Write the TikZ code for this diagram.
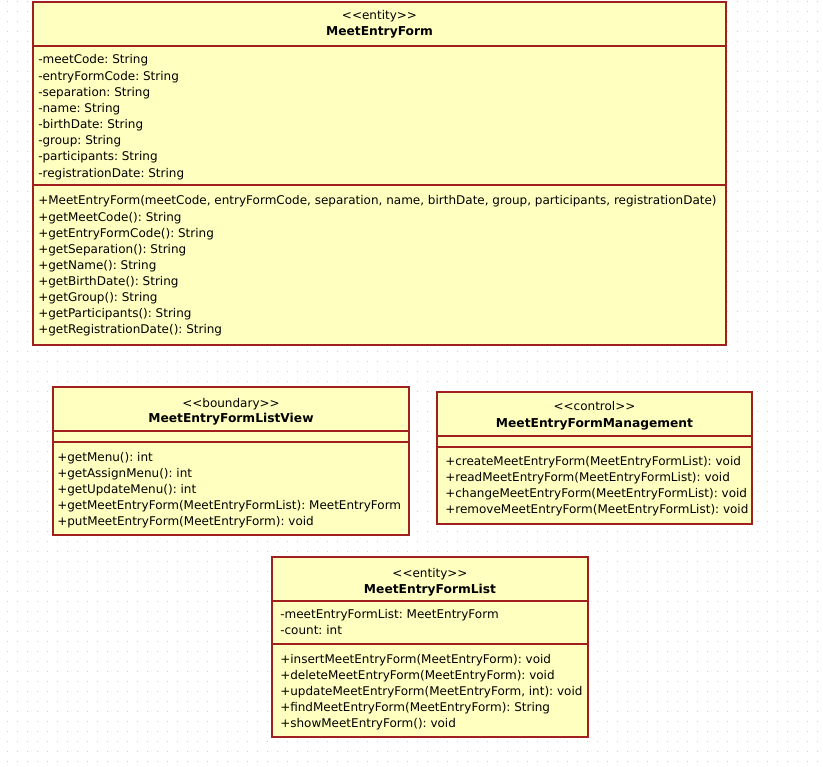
\documentclass[tikz,border=0pt]{standalone}
\usepackage{fontspec}
\setmainfont{DejaVu Sans}
\definecolor{classfill}{RGB}{255,255,192}
\definecolor{classline}{RGB}{160,32,32}
\definecolor{dotgray}{RGB}{205,205,205}
\tikzset{
	classbox/.style={draw=classline, fill=classfill, line width=1.2pt},
	sepline/.style={draw=classline, line width=1.1pt},
	member/.style={anchor=base west, inner sep=0pt, font=\fontsize{9}{11}\selectfont\frenchspacing},
	stereo/.style={anchor=base, inner sep=0pt, font=\fontsize{9}{11}\selectfont},
	cname/.style={anchor=base, inner sep=0pt, font=\fontsize{9.2}{11}\selectfont\bfseries},
}
\begin{document}
\begin{tikzpicture}[x=0.75pt, y=-0.75pt]
		\fill[white] (0,0) rectangle (823,766);
		\useasboundingbox (0,0) rectangle (823,766);
		\foreach \x in {7,17,...,817}
			\draw[dotgray, line width=0.75pt, dash pattern=on 0.75pt off 6.75pt] (\x,1) -- (\x,766);

		% MeetEntryForm
		\draw[classbox] (33,2) rectangle (726,345);
		\draw[sepline] (33,46) -- (726,46);
		\draw[sepline] (33,185) -- (726,185);
		\node[stereo] (mef-st) at (379.5,20) {<{}<entity>{}>};
		\node[cname] (mef-name) at (379.5,36) {MeetEntryForm};
		\foreach \t [count=\i] in {{-meetCode: String},{-entryFormCode: String},{-separation: String},{-name: String},{-birthDate: String},{-group: String},{-participants: String},{-registrationDate: String}}
			\node[member] (mef-a\i) at (38,{64+(\i-1)*16.15}) {\t};
		\foreach \t [count=\i] in {{+MeetEntryForm(meetCode, entryFormCode, separation, name, birthDate, group, participants, registrationDate)},{+getMeetCode(): String},{+getEntryFormCode(): String},{+getSeparation(): String},{+getName(): String},{+getBirthDate(): String},{+getGroup(): String},{+getParticipants(): String},{+getRegistrationDate(): String}}
			\node[member] (mef-m\i) at (38,{205+(\i-1)*16.1}) {\t};

		% MeetEntryFormListView
		\draw[classbox] (53,387) rectangle (409,535);
		\draw[sepline] (53,431) -- (409,431);
		\draw[sepline] (53,442) -- (409,442);
		\node[stereo] (view-st) at (231,407) {<{}<boundary>{}>};
		\node[cname] (view-name) at (231,422) {MeetEntryFormListView};
		\foreach \t [count=\i] in {{+getMenu(): int},{+getAssignMenu(): int},{+getUpdateMenu(): int},{+getMeetEntryForm(MeetEntryFormList): MeetEntryForm},{+putMeetEntryForm(MeetEntryForm): void}}
			\node[member] (view-m\i) at (57,{461+(\i-1)*16}) {\t};

		% MeetEntryFormManagement
		\draw[classbox] (437,392) rectangle (752,524);
		\draw[sepline] (437,436) -- (752,436);
		\draw[sepline] (437,447) -- (752,447);
		\node[stereo] (mgmt-st) at (594.5,410) {<{}<control>{}>};
		\node[cname] (mgmt-name) at (594.5,427) {MeetEntryFormManagement};
		\foreach \t [count=\i] in {{+createMeetEntryForm(MeetEntryFormList): void},{+readMeetEntryForm(MeetEntryFormList): void},{+changeMeetEntryForm(MeetEntryFormList): void},{+removeMeetEntryForm(MeetEntryFormList): void}}
			\node[member] (mgmt-m\i) at (445,{465+(\i-1)*16}) {\t};

		% MeetEntryFormList
		\draw[classbox] (272,557) rectangle (588,737);
		\draw[sepline] (272,601) -- (588,601);
		\draw[sepline] (272,644) -- (588,644);
		\node[stereo] (list-st) at (430,577) {<{}<entity>{}>};
		\node[cname] (list-name) at (430,593) {MeetEntryFormList};
		\foreach \t [count=\i] in {{-meetEntryFormList: MeetEntryForm},{-count: int}}
			\node[member] (list-a\i) at (280,{618+(\i-1)*16.5}) {\t};
		\foreach \t [count=\i] in {{+insertMeetEntryForm(MeetEntryForm): void},{+deleteMeetEntryForm(MeetEntryForm): void},{+updateMeetEntryForm(MeetEntryForm, int): void},{+findMeetEntryForm(MeetEntryForm): String},{+showMeetEntryForm(): void}}
			\node[member] (list-m\i) at (280,{663+(\i-1)*16}) {\t};
	\end{tikzpicture}
\end{document}
